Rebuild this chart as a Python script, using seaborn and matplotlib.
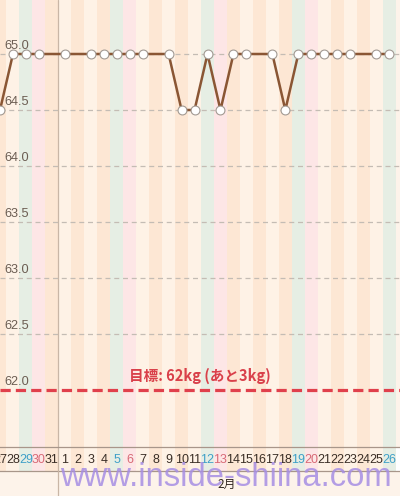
import matplotlib
matplotlib.use("Agg")
import matplotlib.pyplot as plt
import matplotlib.transforms as mtrans
import numpy as np
import pandas as pd
import seaborn as sns

# data (Jan 27 - Feb 26)
dates = pd.date_range("2022-01-27", "2022-02-26")
day_labels = ["27", "28", "29", "30", "31", "1", "2", "3", "4", "5", "6", "7", "8", "9",
              "10", "11", "12", "13", "14", "15", "16", "17", "18", "19", "20", "21",
              "22", "23", "24", "25", "26"]
weights = [64.5, 65.0, 65.0, 65.0, None, 65.0, None, 65.0, 65.0, 65.0, 65.0, 65.0, None,
           65.0, 64.5, 64.5, 65.0, 64.5, 65.0, 65.0, None, 65.0, 64.5, 65.0, 65.0, 65.0,
           65.0, 65.0, None, 65.0, 65.0]
y_ticks = [65.0, 64.5, 64.0, 63.5, 63.0, 62.5]
goal = 62.0
goal_text = "目標: 62kg (あと3kg)"
month_label = "2月"
watermark = "www.inside-shiina.com"

df = pd.DataFrame({"idx": np.arange(len(day_labels)), "weight": weights}).dropna()

sns.set_style("white")
plt.rcParams["font.family"] = ["Liberation Sans", "Noto Sans CJK JP", "DejaVu Sans"]

W, H = 400, 496
fig = plt.figure(figsize=(W / 100, H / 100), dpi=100)
fig.patch.set_facecolor("#fdf3ea")

px = 12.97
xlim = (0.0, W / px)

ax = fig.add_axes([0, 1 - 447 / H, 1, 447 / H])
band = fig.add_axes([0, 1 - 471 / H, 1, 24 / H])
bottom = fig.add_axes([0, 0, 1, 25 / H])

peach, cream, mint, pink = "#fde7d4", "#fef2e6", "#e6eee4", "#fde6e6"
for i, d in enumerate(dates):
    if d.dayofweek == 5:
        c = mint
    elif d.dayofweek == 6:
        c = pink
    else:
        c = peach if i % 2 == 0 else cream
    for a in (ax, band):
        a.axvspan(i - 0.5, i + 0.5, color=c, lw=0, zorder=0)

ax.set_xlim(*xlim)
top = 65.0 + 54 / 112
ax.set_ylim(top - 447 / 112, top)

for v in y_ticks + [goal]:
    if v != goal:
        ax.axhline(v, color="#c4bcb4", lw=0.9, dashes=(4, 3), zorder=1)
    ax.annotate(f"{v:.1f}", xy=(0.012, v), xycoords=("axes fraction", "data"),
                xytext=(0, 3.8), textcoords="offset points", fontsize=9.2,
                color="#6b5d52", va="baseline", ha="left", zorder=2)
ax.axhline(goal, color="#e0404c", lw=2.3, dashes=(3.2, 1.6), zorder=3)
ax.annotate(goal_text, xy=(0.5, goal), xycoords=("axes fraction", "data"),
            xytext=(0, 6.8), textcoords="offset points", ha="center", va="baseline",
            fontsize=10.5, fontweight="bold", color="#d9404a",
            family=["Noto Sans CJK JP", "DejaVu Sans"], zorder=4)

for a in (ax, band, bottom):
    a.axvline(4.5, color="#c9b6a6", lw=0.9, zorder=1)

sns.lineplot(data=df, x="idx", y="weight", ax=ax, color="#8a5634", lw=1.8,
             marker="o", markersize=6.4, markerfacecolor="white",
             markeredgecolor="#a29a93", markeredgewidth=0.8, zorder=5)
ax.set_xlim(*xlim)
ax.set_axis_off()

band.set_xlim(*xlim)
band.set_ylim(0, 1)
band.set_xticks([])
band.set_yticks([])
for s in ["left", "right"]:
    band.spines[s].set_visible(False)
for s in ["top", "bottom"]:
    band.spines[s].set_color("#a8968a")
    band.spines[s].set_linewidth(0.9)
tr = mtrans.blended_transform_factory(band.transData, band.transAxes)
for i, (d, lab) in enumerate(zip(dates, day_labels)):
    col = "#3fa0c8" if d.dayofweek == 5 else ("#d86a76" if d.dayofweek == 6 else "#3a2e26")
    band.text(i, 0.45, lab, transform=tr, ha="center", va="center",
              fontsize=9, color=col)

bottom.set_xlim(*xlim)
bottom.set_ylim(0, 1)
bottom.set_facecolor("#fdf3ea")
bottom.set_axis_off()

fig.text(60 / W, 1 - 486 / H, watermark, fontsize=23.6, color="#a68ee4", alpha=0.85,
         ha="left", va="baseline", zorder=10)
bottom.text(17.5, 0.45, month_label, ha="center", va="center",
            fontsize=8.5, color="#2e241e", family=["Noto Sans CJK JP", "DejaVu Sans"],
            zorder=20)

fig.savefig("out.png", dpi=100)
